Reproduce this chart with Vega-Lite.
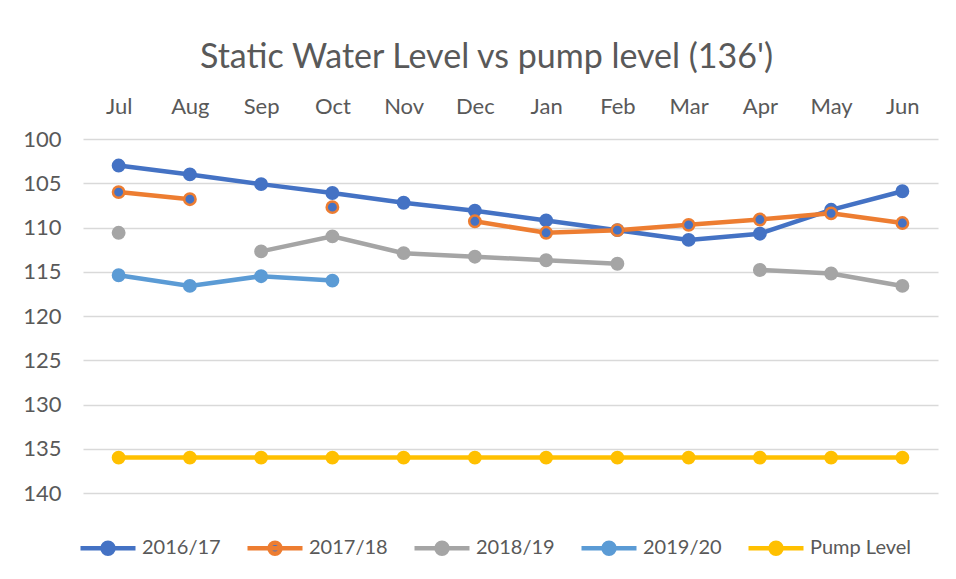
{
  "$schema": "https://vega.github.io/schema/vega-lite/v6.json",
  "width": 855,
  "height": 354,
  "autosize": {"type": "none"},
  "padding": {"left": 83, "top": 139, "right": 18, "bottom": 86},
  "background": "white",
  "title": {
    "text": "Static Water Level vs pump level (136')",
    "font": "Lato",
    "fontSize": 34,
    "fontWeight": "normal",
    "color": "#595959",
    "anchor": "middle",
    "dx": -24,
    "offset": 20
  },
  "config": {
    "view": {"stroke": null},
    "font": "Lato",
    "legend": {
      "symbolType": "M-1,0H1M0.2,0A0.2,0.2 0 1,1 -0.2,0A0.2,0.2 0 1,1 0.2,0",
      "symbolSize": 3025,
      "symbolStrokeWidth": 4.5,
      "labelFontSize": 20,
      "labelFont": "Lato",
      "labelColor": "#595959",
      "labelOffset": 4,
      "columnPadding": 17,
      "padding": 0
    }
  },
  "data": {
    "values": [
      {"month": "Jul", "idx": 1, "series": "2016/17", "value": 103.0},
      {"month": "Aug", "idx": 2, "series": "2016/17", "value": 104.0},
      {"month": "Sep", "idx": 3, "series": "2016/17", "value": 105.1},
      {"month": "Oct", "idx": 4, "series": "2016/17", "value": 106.1},
      {"month": "Nov", "idx": 5, "series": "2016/17", "value": 107.2},
      {"month": "Dec", "idx": 6, "series": "2016/17", "value": 108.1},
      {"month": "Jan", "idx": 7, "series": "2016/17", "value": 109.2},
      {"month": "Feb", "idx": 8, "series": "2016/17", "value": 110.3},
      {"month": "Mar", "idx": 9, "series": "2016/17", "value": 111.4},
      {"month": "Apr", "idx": 10, "series": "2016/17", "value": 110.7},
      {"month": "May", "idx": 11, "series": "2016/17", "value": 108.0},
      {"month": "Jun", "idx": 12, "series": "2016/17", "value": 105.9},
      {"month": "Jul", "idx": 1, "series": "2017/18", "value": 106.0},
      {"month": "Aug", "idx": 2, "series": "2017/18", "value": 106.8},
      {"month": "Sep", "idx": 3, "series": "2017/18", "value": null},
      {"month": "Oct", "idx": 4, "series": "2017/18", "value": 107.7},
      {"month": "Nov", "idx": 5, "series": "2017/18", "value": null},
      {"month": "Dec", "idx": 6, "series": "2017/18", "value": 109.3},
      {"month": "Jan", "idx": 7, "series": "2017/18", "value": 110.6},
      {"month": "Feb", "idx": 8, "series": "2017/18", "value": 110.3},
      {"month": "Mar", "idx": 9, "series": "2017/18", "value": 109.7},
      {"month": "Apr", "idx": 10, "series": "2017/18", "value": 109.1},
      {"month": "May", "idx": 11, "series": "2017/18", "value": 108.4},
      {"month": "Jun", "idx": 12, "series": "2017/18", "value": 109.5},
      {"month": "Jul", "idx": 1, "series": "2018/19", "value": 110.6},
      {"month": "Aug", "idx": 2, "series": "2018/19", "value": null},
      {"month": "Sep", "idx": 3, "series": "2018/19", "value": 112.7},
      {"month": "Oct", "idx": 4, "series": "2018/19", "value": 111.0},
      {"month": "Nov", "idx": 5, "series": "2018/19", "value": 112.9},
      {"month": "Dec", "idx": 6, "series": "2018/19", "value": 113.3},
      {"month": "Jan", "idx": 7, "series": "2018/19", "value": 113.7},
      {"month": "Feb", "idx": 8, "series": "2018/19", "value": 114.1},
      {"month": "Mar", "idx": 9, "series": "2018/19", "value": null},
      {"month": "Apr", "idx": 10, "series": "2018/19", "value": 114.8},
      {"month": "May", "idx": 11, "series": "2018/19", "value": 115.2},
      {"month": "Jun", "idx": 12, "series": "2018/19", "value": 116.6},
      {"month": "Jul", "idx": 1, "series": "2019/20", "value": 115.4},
      {"month": "Aug", "idx": 2, "series": "2019/20", "value": 116.6},
      {"month": "Sep", "idx": 3, "series": "2019/20", "value": 115.5},
      {"month": "Oct", "idx": 4, "series": "2019/20", "value": 116.0},
      {"month": "Jul", "idx": 1, "series": "Pump Level", "value": 136},
      {"month": "Aug", "idx": 2, "series": "Pump Level", "value": 136},
      {"month": "Sep", "idx": 3, "series": "Pump Level", "value": 136},
      {"month": "Oct", "idx": 4, "series": "Pump Level", "value": 136},
      {"month": "Nov", "idx": 5, "series": "Pump Level", "value": 136},
      {"month": "Dec", "idx": 6, "series": "Pump Level", "value": 136},
      {"month": "Jan", "idx": 7, "series": "Pump Level", "value": 136},
      {"month": "Feb", "idx": 8, "series": "Pump Level", "value": 136},
      {"month": "Mar", "idx": 9, "series": "Pump Level", "value": 136},
      {"month": "Apr", "idx": 10, "series": "Pump Level", "value": 136},
      {"month": "May", "idx": 11, "series": "Pump Level", "value": 136},
      {"month": "Jun", "idx": 12, "series": "Pump Level", "value": 136}
    ]
  },
  "encoding": {
    "x": {
      "field": "month",
      "type": "ordinal",
      "sort": ["Jul", "Aug", "Sep", "Oct", "Nov", "Dec", "Jan", "Feb", "Mar", "Apr", "May", "Jun"],
      "scale": {"type": "point", "padding": 0.5},
      "axis": {
        "orient": "top",
        "title": null,
        "labelAngle": 0,
        "domain": false,
        "ticks": false,
        "grid": false,
        "labelFont": "Lato",
        "labelFontSize": 22,
        "labelColor": "#595959",
        "labelPadding": 21
      }
    },
    "y": {
      "field": "value",
      "type": "quantitative",
      "scale": {"domain": [100, 140], "reverse": true, "nice": false, "zero": false},
      "axis": {
        "values": [100, 105, 110, 115, 120, 125, 130, 135, 140],
        "title": null,
        "domain": false,
        "ticks": false,
        "grid": true,
        "gridColor": "#D9D9D9",
        "gridWidth": 1.5,
        "labelFont": "Lato",
        "labelFontSize": 22,
        "labelColor": "#595959",
        "labelPadding": 22
      }
    }
  },
  "layer": [
    {
      "mark": {"type": "line", "strokeWidth": 4.5, "invalid": "break-paths-show-domains"},
      "encoding": {
        "stroke": {
          "field": "series",
          "type": "nominal",
          "scale": {
            "domain": ["2016/17", "2017/18", "2018/19", "2019/20", "Pump Level"],
            "range": ["#4472C4", "#ED7D31", "#A5A5A5", "#5B9BD5", "#FFC000"]
          },
          "legend": {
            "title": null,
            "orient": "none",
            "direction": "horizontal",
            "legendX": -5,
            "legendY": 379
          }
        },
        "order": {"field": "idx", "type": "quantitative"}
      }
    },
    {
      "mark": {"type": "circle", "size": 130, "strokeWidth": 2.5, "opacity": 1, "strokeOpacity": 1, "fillOpacity": 1},
      "encoding": {
        "fill": {
          "field": "series",
          "type": "nominal",
          "scale": {
            "domain": ["2016/17", "2017/18", "2018/19", "2019/20", "Pump Level"],
            "range": ["#4472C4", "#4472C4", "#A5A5A5", "#5B9BD5", "#FFC000"]
          },
          "legend": {
            "title": null,
            "orient": "none",
            "direction": "horizontal",
            "legendX": -5,
            "legendY": 379
          }
        },
        "stroke": {
          "field": "series",
          "type": "nominal"
        }
      }
    }
  ]
}
